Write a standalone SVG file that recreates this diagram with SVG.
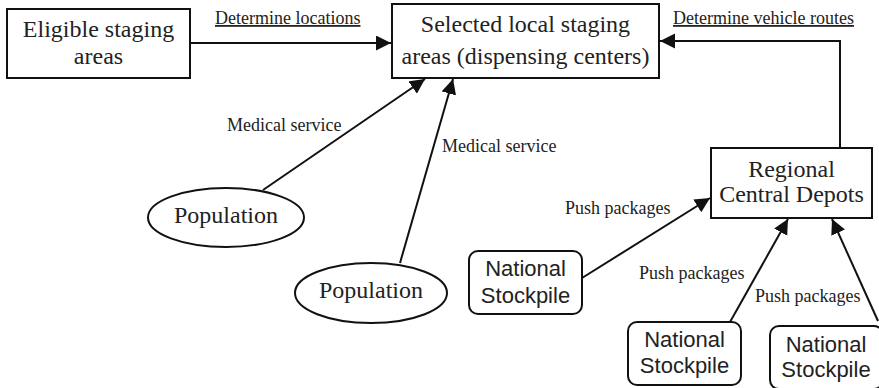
<svg xmlns="http://www.w3.org/2000/svg" width="879" height="388" viewBox="0 0 879 388">
<defs>
<style>
.box{fill:#fff;stroke:#111;stroke-width:2}
.t{font-family:"Liberation Serif","Times New Roman",serif;fill:#222;text-anchor:middle;font-size:24px}
.ts{font-family:"Liberation Sans",Arial,sans-serif;fill:#222;text-anchor:middle;font-size:22px}
.lbl{font-family:"Liberation Serif","Times New Roman",serif;fill:#222;font-size:18px}
.u{text-decoration:underline}
.c{fill:none;stroke:#111;stroke-width:2}
</style>
<marker id="ah" markerUnits="userSpaceOnUse" markerWidth="16" markerHeight="16" refX="15" refY="7.5" orient="auto">
<path d="M0,0 L15,7.5 L0,15 z" fill="#111"/>
</marker>
</defs>
<rect width="879" height="388" fill="#fff"/>
<g id="connectors">
<line class="c" x1="190" y1="43" x2="391" y2="43" marker-end="url(#ah)"/>
<line class="c" x1="263" y1="190" x2="425" y2="79" marker-end="url(#ah)"/>
<line class="c" x1="400" y1="263" x2="453" y2="79" marker-end="url(#ah)"/>
<polyline class="c" points="840,148 840,41 660,41" marker-end="url(#ah)"/>
<line class="c" x1="582" y1="278" x2="710" y2="198" marker-end="url(#ah)"/>
<line class="c" x1="730" y1="322" x2="788" y2="219" marker-end="url(#ah)"/>
<line class="c" x1="878" y1="321" x2="832" y2="219" marker-end="url(#ah)"/>
<text class="lbl u" x="215" y="24">Determine locations</text>
<text class="lbl u" x="673" y="24">Determine vehicle routes</text>
<text class="lbl" x="227" y="131">Medical service</text>
<text class="lbl" x="442" y="152">Medical service</text>
<text class="lbl" x="565" y="214">Push packages</text>
<text class="lbl" x="639" y="279">Push packages</text>
<text class="lbl" x="755" y="302">Push packages</text>
</g>
<g id="eligible">
<rect class="box" x="7" y="9" width="183" height="69"/>
<text class="t" x="98.5" y="37">Eligible staging</text>
<text class="t" x="98.5" y="64">areas</text>
</g>
<g id="selected">
<rect class="box" x="392" y="4" width="267" height="74"/>
<text class="t" x="525.5" y="32">Selected local staging</text>
<text class="t" x="525.5" y="64">areas (dispensing centers)</text>
</g>
<g id="population1">
<ellipse class="box" cx="226" cy="217.5" rx="78" ry="29.5"/>
<text class="t" x="226" y="223">Population</text>
</g>
<g id="population2">
<ellipse class="box" cx="371" cy="293" rx="76" ry="30"/>
<text class="t" x="371" y="298">Population</text>
</g>
<g id="regional">
<rect class="box" x="711" y="148" width="161" height="70"/>
<text class="t" x="791.5" y="177">Regional</text>
<text class="t" x="791.5" y="202">Central Depots</text>
</g>
<g id="stockpile1">
<rect class="box" x="469" y="251" width="113" height="63" rx="9"/>
<text class="ts" x="525.5" y="276">National</text>
<text class="ts" x="525.5" y="303">Stockpile</text>
</g>
<g id="stockpile2">
<rect class="box" x="628" y="322" width="113" height="63" rx="9"/>
<text class="ts" x="684.5" y="347">National</text>
<text class="ts" x="684.5" y="373">Stockpile</text>
</g>
<g id="stockpile3">
<rect class="box" x="770" y="326" width="113" height="63" rx="9"/>
<text class="ts" x="826" y="352">National</text>
<text class="ts" x="826" y="377">Stockpile</text>
</g>
</svg>
